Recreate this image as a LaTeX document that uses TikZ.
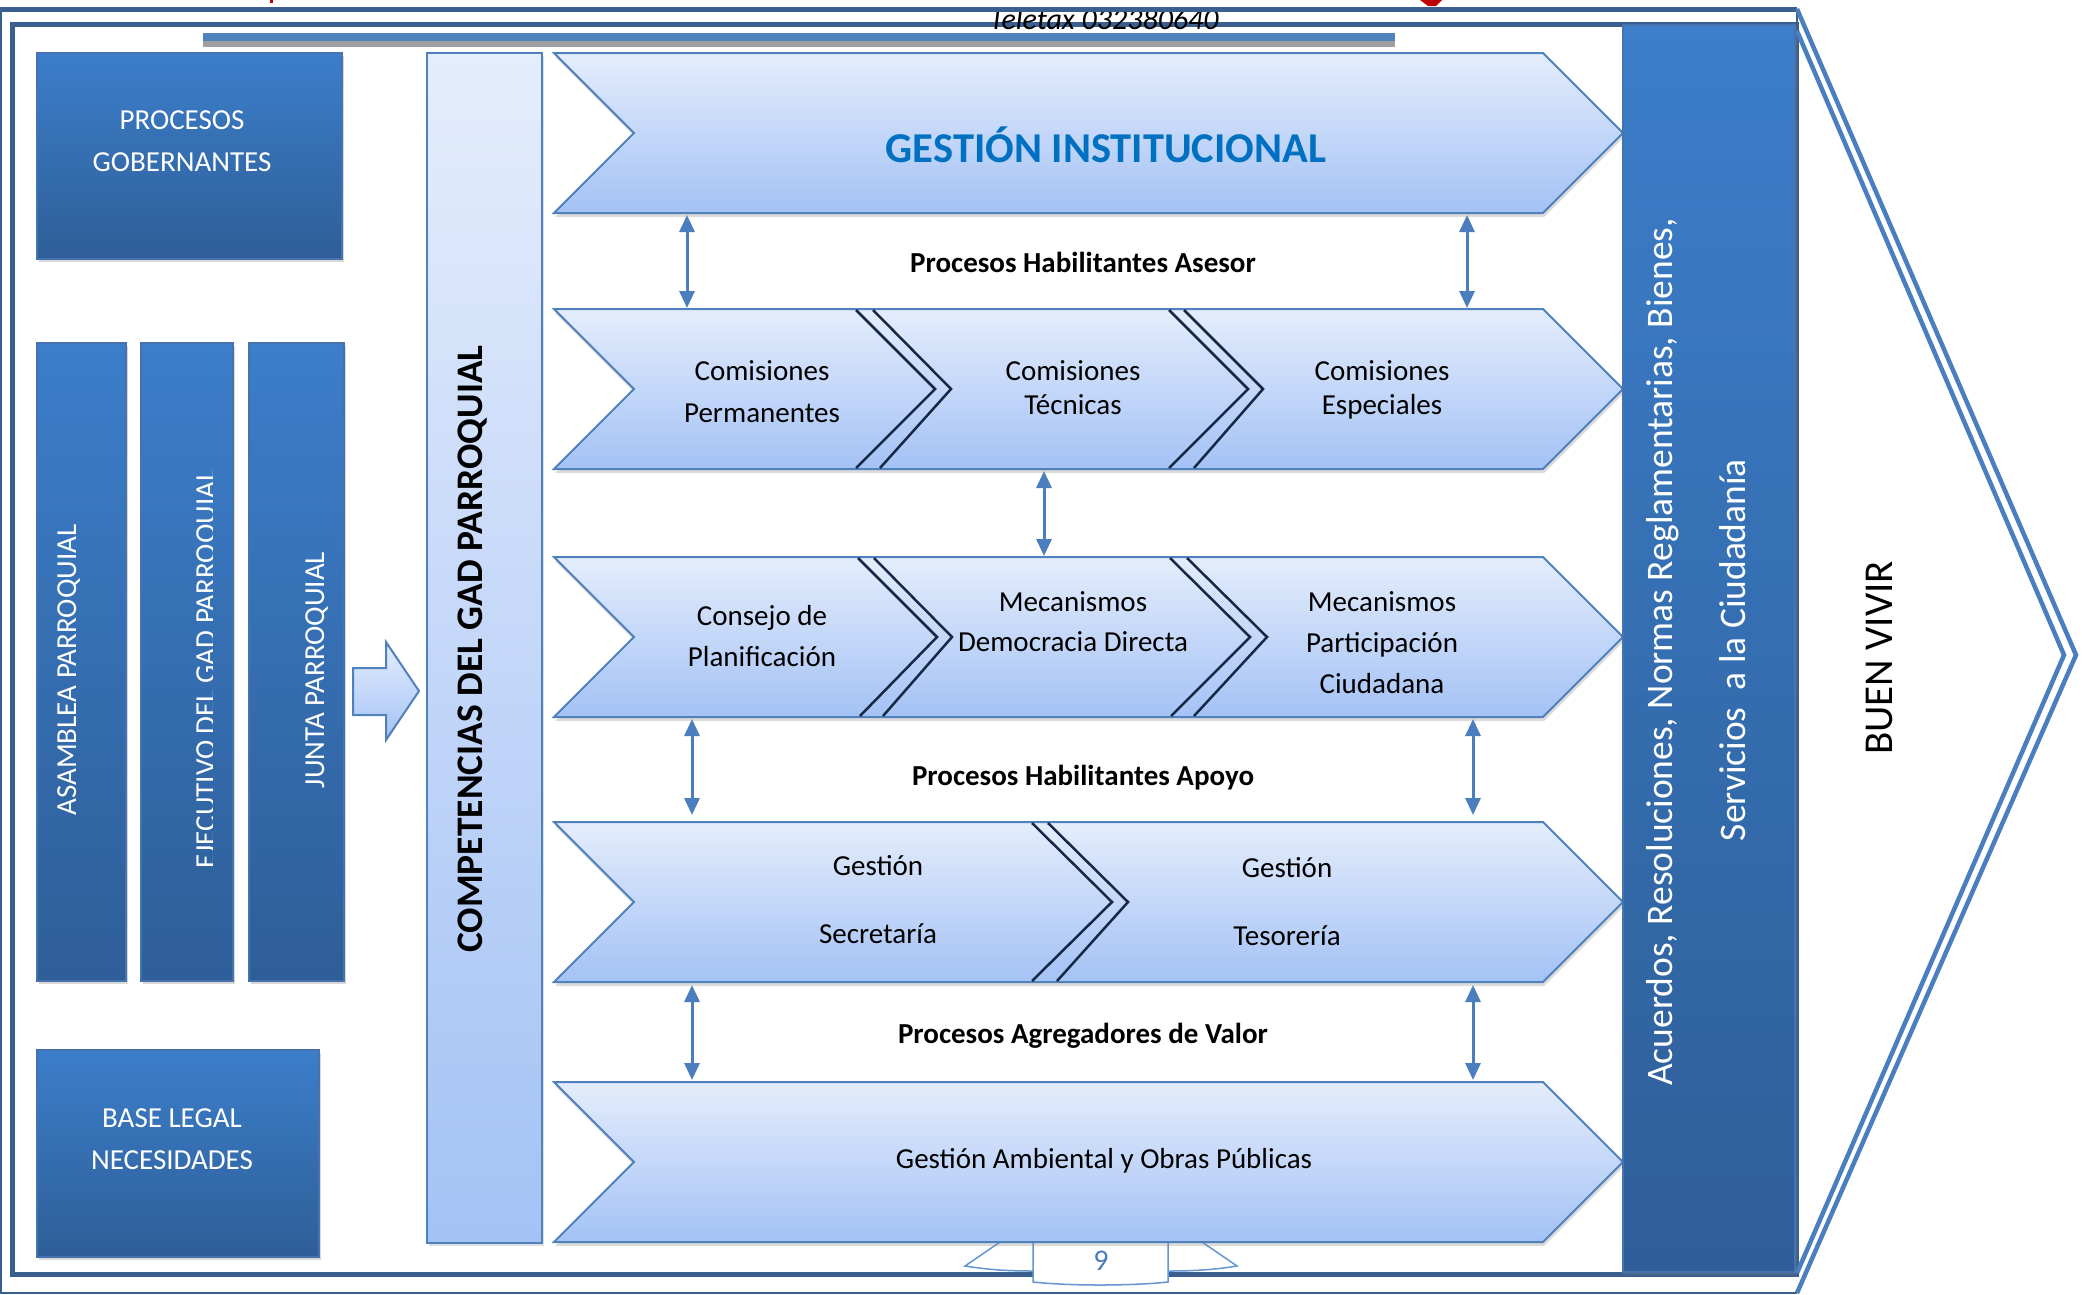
\documentclass[tikz,border=0pt]{standalone}
\usepackage{fontspec}
\setmainfont{Carlito}
\usetikzlibrary{arrows.meta,shadows}
\definecolor{frameblue}{RGB}{58,95,143}
\definecolor{midblue}{RGB}{79,129,189}
\definecolor{linkblue}{RGB}{74,126,191}
\definecolor{boxtop}{RGB}{60,126,202}
\definecolor{boxbot}{RGB}{46,94,152}
\definecolor{boxedge}{RGB}{70,115,175}
\definecolor{lighttop}{RGB}{228,237,252}
\definecolor{lightbot}{RGB}{164,194,245}
\definecolor{navy}{RGB}{22,40,70}
\definecolor{titleblue}{RGB}{0,112,192}
\definecolor{tabblue}{RGB}{100,150,210}
\definecolor{barshadow}{RGB}{160,160,160}
\begin{document}
\begin{tikzpicture}[x=1pt,y=-1pt,
  darkbox/.style={top color=boxtop,bottom color=boxbot,draw=boxedge,line width=1.2pt,
     drop shadow={opacity=0.3,shadow xshift=2pt,shadow yshift=-3pt}},
  lightchev/.style={top color=lighttop,bottom color=lightbot,draw=midblue,line width=2pt,
     line join=miter,drop shadow={opacity=0.28,shadow xshift=1pt,shadow yshift=-4pt}},
  sepline/.style={draw=navy,line width=2.5pt},
  link/.style={draw=linkblue,line width=3pt,{Triangle[length=17pt,width=15pt]}-{Triangle[length=17pt,width=15pt]}},
  tabline/.style={draw=tabblue,line width=1.5pt},
  wtext/.style={text=white,font=\fontsize{29}{35}\selectfont,inner sep=0pt,anchor=base},
  ktext/.style={text=black,font=\fontsize{29}{35}\selectfont,inner sep=0pt,anchor=base},
  btext/.style={text=black,font=\fontsize{29}{35}\selectfont\bfseries,inner sep=0pt,anchor=base},
  vtext/.style={text=white,font=\fontsize{37.5}{42}\selectfont,inner sep=0pt,anchor=base,rotate=90}
]
\useasboundingbox (0,0) rectangle (2084,1294);
\fill[white] (0,0) rectangle (2084,1294);

% header fragments
\fill[red!75!black] (1420,0) -- (1442,0) -- (1436,6) -- (1428,6) -- cycle;
\fill[red!75!black] (270,0) rectangle (273,3);

% frames
\draw[frameblue,line width=1.5pt] (1,9.5) -- (1,1293) -- (1797,1293);
\draw[frameblue,line width=5pt] (0,9.5) -- (1797,9.5);
\draw[frameblue,line width=4.5pt] (12.5,24.5) rectangle (1797,1274.5);
\draw[frameblue,line width=2pt] (1797,9.5) -- (1797,24.5);

% header text
\begin{scope}
  \clip (900,12) rectangle (1300,40);
  \node[text=black,font=\fontsize{30}{34}\selectfont\itshape,inner sep=0pt,anchor=base] (tel) at (1104,29) {Teletax\ 032380640};
\end{scope}

% top bar
\fill[barshadow] (203,40) rectangle (1395,47);
\fill[midblue] (203,33) rectangle (1395,41);

% page tab
\draw[tabline] (1000,1242) -- (965,1266) .. controls (990,1270) and (1010,1271) .. (1033,1271);
\filldraw[tabline,fill=white] (1033,1242) -- (1033,1282) .. controls (1070,1286) and (1130,1286) .. (1168,1282) -- (1168,1242);
\draw[tabline] (1202,1242) -- (1237,1266) .. controls (1212,1270) and (1192,1271) .. (1168,1271);
\node[text=linkblue,font=\fontsize{30}{34}\selectfont,inner sep=0pt,anchor=base] (pg) at (1101,1270) {9};

% left boxes
\path[darkbox] (37,53) rectangle (342,259);
\node[wtext] (pg1) at (182,129) {PROCESOS};
\node[wtext] (pg2) at (182,171) {GOBERNANTES};

\path[darkbox] (37,343) rectangle (126,981);
\path[darkbox] (141,343) rectangle (233,981);
\path[darkbox] (249,343) rectangle (344,981);
\node[wtext,rotate=90] (asam) at (76,670) {ASAMBLEA PARROQUIAL};
\begin{scope}
  \clip (141,343) rectangle (212.5,981);
  \node[wtext,rotate=90] (ejec) at (215,669) {EJECUTIVO DEL GAD PARROQUIAL};
\end{scope}
\node[wtext,rotate=90] (junta) at (324,670) {JUNTA PARROQUIAL};

\path[darkbox] (37,1050) rectangle (319,1257);
\node[wtext] (bl1) at (172,1127) {BASE LEGAL};
\node[wtext] (bl2) at (172,1169) {NECESIDADES};

% small block arrow
\path[top color=lighttop,bottom color=lightbot,draw=midblue,line width=2pt]
  (353,668) -- (386,668) -- (386,642) -- (419,691) -- (386,740) -- (386,715) -- (353,715) -- cycle;

% competencias column
\path[top color=lighttop,bottom color=lightbot,draw=midblue,line width=2pt,
  drop shadow={opacity=0.25,shadow xshift=2pt,shadow yshift=-3pt}] (427,53) rectangle (542,1243);
\node[text=black,font=\fontsize{37.5}{42}\selectfont\bfseries,inner sep=0pt,anchor=base,rotate=90] (comp) at (482,649) {COMPETENCIAS DEL GAD PARROQUIAL};

% chevrons
\path[lightchev] (554,53) -- (1543,53) -- (1623,133) -- (1543,213) -- (554,213) -- (634,133) -- cycle;
\path[lightchev] (554,309) -- (1543,309) -- (1623,389) -- (1543,469) -- (554,469) -- (634,389) -- cycle;
\path[lightchev] (554,557) -- (1543,557) -- (1623,637) -- (1543,717) -- (554,717) -- (634,637) -- cycle;
\path[lightchev] (554,822) -- (1543,822) -- (1623,902) -- (1543,982) -- (554,982) -- (634,902) -- cycle;
\path[lightchev] (554,1082) -- (1543,1082) -- (1623,1162) -- (1543,1242) -- (554,1242) -- (634,1162) -- cycle;

% separators
\draw[sepline] (856,310) -- (935,389) -- (856,468);
\draw[sepline] (873,310) -- (951,389) -- (880,468);
\draw[sepline] (1169,310) -- (1248,389) -- (1169,468);
\draw[sepline] (1184,310) -- (1263,389) -- (1194,468);
\draw[sepline] (858,558) -- (937,637) -- (860,716);
\draw[sepline] (874,558) -- (952,637) -- (883,716);
\draw[sepline] (1170,558) -- (1250,637) -- (1171,716);
\draw[sepline] (1187,558) -- (1267,637) -- (1194,716);
\draw[sepline] (1032,823) -- (1112,902) -- (1032,981);
\draw[sepline] (1048,823) -- (1128,902) -- (1057,981);

% chevron texts
\node[text=titleblue,font=\fontsize{42.5}{48}\selectfont\bfseries,inner sep=0pt,anchor=base] (gi) at (1106,162) {GESTIÓN INSTITUCIONAL};
\node[btext] (lab1) at (1083,272) {Procesos Habilitantes Asesor};
\node[ktext] (c1a) at (762,380) {Comisiones};
\node[ktext] (c1b) at (762,422) {Permanentes};
\node[ktext] (c2a) at (1073,380) {Comisiones};
\node[ktext] (c2b) at (1073,414) {Técnicas};
\node[ktext] (c3a) at (1382,380) {Comisiones};
\node[ktext] (c3b) at (1382,414) {Especiales};
\node[ktext] (m1a) at (762,625) {Consejo de};
\node[ktext] (m1b) at (762,666) {Planificación};
\node[ktext] (m2a) at (1073,611) {Mecanismos};
\node[ktext] (m2b) at (1073,651) {Democracia Directa};
\node[ktext] (m3a) at (1382,611) {Mecanismos};
\node[ktext] (m3b) at (1382,652) {Participación};
\node[ktext] (m3c) at (1382,693) {Ciudadana};
\node[btext] (lab2) at (1083,785) {Procesos Habilitantes Apoyo};
\node[ktext] (g1a) at (878,875) {Gestión};
\node[ktext] (g1b) at (878,943) {Secretaría};
\node[ktext] (g2a) at (1287,877) {Gestión};
\node[ktext] (g2b) at (1287,945) {Tesorería};
\node[btext] (lab3) at (1083,1043) {Procesos Agregadores de Valor};
\node[ktext] (amb) at (1104,1168) {Gestión Ambiental y Obras Públicas};

% connectors
\coordinate (a1t) at (687,215); \coordinate (a1b) at (687,308);
\coordinate (a2t) at (1467,215); \coordinate (a2b) at (1467,308);
\coordinate (a3t) at (1044,471); \coordinate (a3b) at (1044,556);
\coordinate (a4t) at (692,719); \coordinate (a4b) at (692,815);
\coordinate (a5t) at (1473,719); \coordinate (a5b) at (1473,815);
\coordinate (a6t) at (692,985); \coordinate (a6b) at (692,1080);
\coordinate (a7t) at (1473,985); \coordinate (a7b) at (1473,1080);
\draw[link] (a1t) -- (a1b);
\draw[link] (a2t) -- (a2b);
\draw[link] (a3t) -- (a3b);
\draw[link] (a4t) -- (a4b);
\draw[link] (a5t) -- (a5b);
\draw[link] (a6t) -- (a6b);
\draw[link] (a7t) -- (a7b);

% right output column
\path[darkbox] (1623,25) rectangle (1795,1272);
\node[vtext] (out1) at (1672,652) {Acuerdos, Resoluciones, Normas Reglamentarias, Bienes,};
\node[vtext] (out2) at (1745,650) {Servicios \ a la Ciudadanía};

% buen vivir chevron
\draw[linkblue,line width=4.5pt,line join=miter] (1797,9) -- (2076,655) -- (1797,1293);
\draw[linkblue,line width=4.5pt,line join=miter] (1797,31) -- (2064,655) -- (1797,1273);
\node[text=black,font=\fontsize{41}{46}\selectfont,inner sep=0pt,anchor=base,rotate=90] (bv) at (1892,658) {BUEN VIVIR};
\end{tikzpicture}
\end{document}
